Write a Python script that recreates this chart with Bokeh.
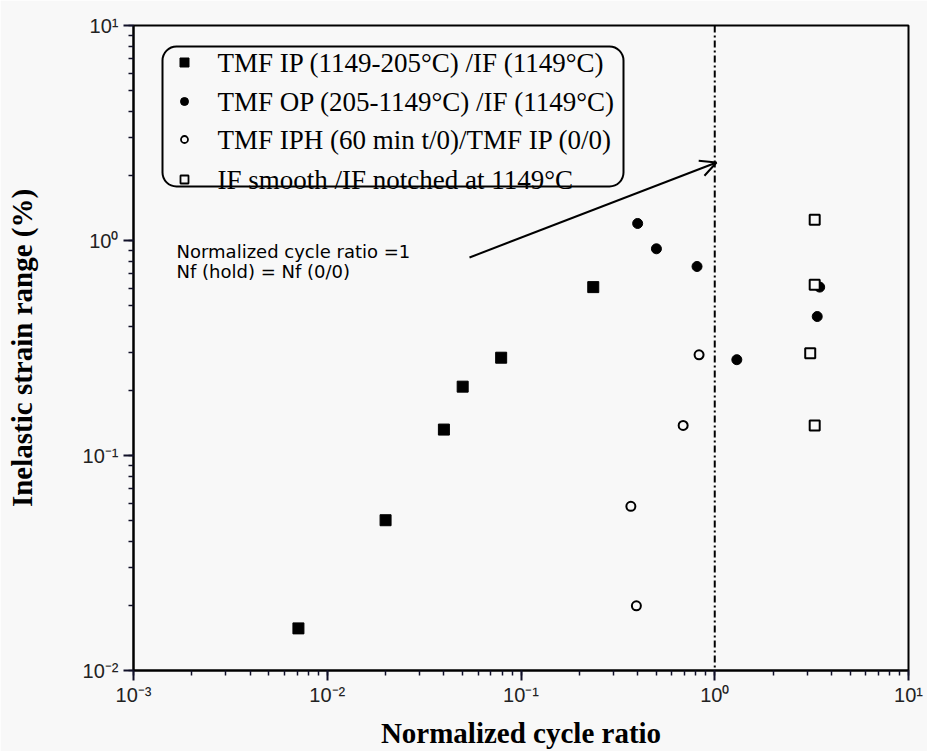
from bokeh.plotting import figure
from bokeh.models import (Span, Arrow, OpenHead, Label, BoxAnnotation,
                          CustomJSTickFormatter, LogTicker)
from bokeh.embed import file_html
from bokeh.resources import INLINE
import math

# ---------------- data ----------------
ip_x = [0.0071, 0.020, 0.040, 0.050, 0.079, 0.236]
ip_y = [0.0157, 0.050, 0.132, 0.209, 0.285, 0.607]

op_x = [0.40, 0.50, 0.81, 1.30, 3.38, 3.48]
op_y = [1.20, 0.915, 0.757, 0.279, 0.443, 0.607]

iph_x = [0.83, 0.687, 0.369, 0.394]
iph_y = [0.294, 0.138, 0.058, 0.020]

if_x = [3.28, 3.28, 3.11, 3.28]
if_y = [1.25, 0.622, 0.299, 0.138]

legend_labels = [
    "TMF IP (1149-205°C) /IF (1149°C)",
    "TMF OP (205-1149°C) /IF (1149°C)",
    "TMF IPH (60 min t/0)/TMF IP (0/0)",
    "IF smooth /IF notched at 1149°C",
]
note_lines = ["Normalized  cycle  ratio  =1", "Nf  (hold)  =  Nf  (0/0)"]
x_label = "Normalized cycle ratio"
y_label = "Inelastic strain range (%)"
ratio_one = 1.0

# ---------------- layout ----------------
W, H = 927, 751
FL, FR, FT, FB = 133, 908, 25, 670
XMIN, XMAX = 1e-3, 1e1
YMIN, YMAX = 1e-2, 1e1
BG = "#f8f8f8"
TICK = "#101028"


def px_x(px):
    lo, hi = math.log10(XMIN), math.log10(XMAX)
    return 10 ** (lo + (hi - lo) * (px - FL) / (FR - FL))


def px_y(py):
    lo, hi = math.log10(YMIN), math.log10(YMAX)
    return 10 ** (lo + (hi - lo) * (FB - py) / (FB - FT))


p = figure(width=W, height=H, x_axis_type="log", y_axis_type="log",
           x_range=(XMIN, XMAX), y_range=(YMIN, YMAX),
           output_backend="svg", toolbar_location=None,
           min_border_left=FL, min_border_right=W - FR,
           min_border_top=FT, min_border_bottom=H - FB,
           background_fill_color=BG, border_fill_color=BG)

p.grid.visible = False
p.outline_line_color = "black"
p.outline_line_width = 2

fmt = CustomJSTickFormatter(code="""
const e = Math.round(Math.log10(tick));
const sup = {'-':'\\u207B','0':'\\u2070','1':'\\u00B9','2':'\\u00B2','3':'\\u00B3',
             '4':'\\u2074','5':'\\u2075','6':'\\u2076','7':'\\u2077','8':'\\u2078','9':'\\u2079'};
return '10' + String(e).split('').map(c => sup[c]).join('');
""")

for ax in (p.xaxis[0], p.yaxis[0]):
    ax.ticker = LogTicker(num_minor_ticks=10)
    ax.formatter = fmt
    ax.axis_line_width = 2
    ax.axis_line_color = "black"
    ax.major_tick_line_width = 2
    ax.major_tick_line_color = TICK
    ax.major_tick_line_alpha = 1.0
    ax.minor_tick_line_color = TICK
    ax.minor_tick_line_width = 1.5
    ax.minor_tick_line_alpha = 1.0
    ax.major_tick_out = 10
    ax.major_tick_in = 0
    ax.minor_tick_out = 5
    ax.minor_tick_in = 0
    ax.major_label_text_font = "Liberation Sans"
    ax.major_label_text_font_size = "20px"
    ax.major_label_text_color = "#222222"
    ax.axis_label_text_font = "Liberation Serif"
    ax.axis_label_text_font_style = "bold"
    ax.axis_label_text_font_size = "29px"
    ax.axis_label_text_color = "black"

p.xaxis[0].axis_label = x_label
p.yaxis[0].axis_label = y_label
p.xaxis[0].major_label_standoff = 3
p.xaxis[0].axis_label_standoff = 8
p.yaxis[0].major_label_standoff = 5
p.yaxis[0].axis_label_standoff = 42

# vertical line at ratio = 1
p.add_layout(Span(location=ratio_one, dimension="height", line_color="black",
                  line_dash="7 3 2 3", line_width=2))

# data points
p.scatter(ip_x, ip_y, marker="square", size=11, color="black")
p.scatter(op_x, op_y, marker="circle", size=10, color="black")
p.scatter(iph_x, iph_y, marker="circle", size=9, fill_color=BG,
          line_color="black", line_width=2)
p.scatter(if_x, if_y, marker="square", size=10, fill_color=BG,
          line_color="black", line_width=2)

# arrow + note
p.add_layout(Arrow(end=OpenHead(size=16, line_width=2, line_color="black"),
                   x_start=px_x(469), y_start=px_y(257),
                   x_end=px_x(716), y_end=px_y(162),
                   line_width=2, line_color="black"))
for i, t in enumerate(note_lines):
    p.add_layout(Label(x=px_x(176), y=px_y(251 + 20 * i), text=t,
                       text_font="DejaVu Sans", text_font_size="18px",
                       text_baseline="middle", text_align="left",
                       text_color="black"))

# legend box
p.add_layout(BoxAnnotation(left=px_x(162), right=px_x(623),
                           top=px_y(46), bottom=px_y(186),
                           border_radius=14, fill_color=None, fill_alpha=0,
                           line_color="black", line_alpha=1.0, line_width=2))
row_y = [62, 101, 139, 179]
mk_x = px_x(184)
leg_styles = [
    dict(marker="square", size=9, color="black"),
    dict(marker="circle", size=8, color="black"),
    dict(marker="circle", size=7, fill_color=BG, line_color="black", line_width=1.8),
    dict(marker="square", size=8, fill_color=BG, line_color="black", line_width=1.8),
]
for ry, lab, st in zip(row_y, legend_labels, leg_styles):
    p.scatter([mk_x], [px_y(ry)], **st)
    p.add_layout(Label(x=px_x(217), y=px_y(ry), text=lab,
                       text_font="Liberation Serif", text_font_size="27px",
                       text_baseline="middle", text_align="left",
                       text_color="black"))

open("out.html", "w").write(file_html(p, INLINE))
